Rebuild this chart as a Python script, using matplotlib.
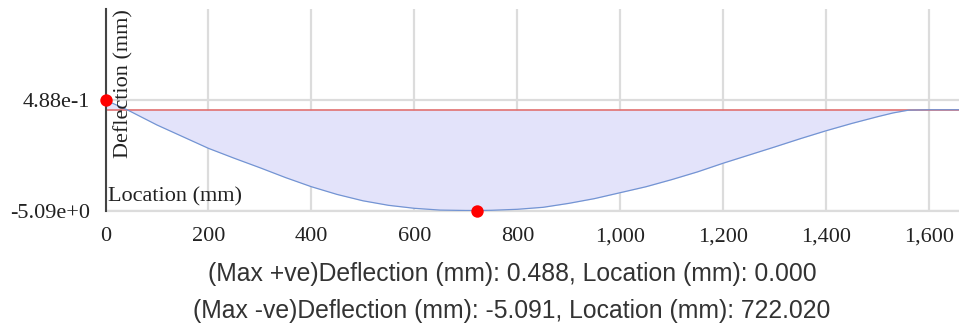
import matplotlib
matplotlib.use("Agg")
import matplotlib.pyplot as plt

# Beam deflection along its length
location_mm = [0, 42, 100, 150, 200, 250, 300, 350, 400, 450, 500, 550, 600,
               650, 700, 722.02, 750, 800, 850, 900, 950, 1000, 1050, 1100,
               1150, 1200, 1250, 1300, 1350, 1400, 1450, 1500, 1530, 1560,
               1600, 1658]
deflection_mm = [0.488, 0.0, -0.77, -1.36, -1.95, -2.45, -2.93, -3.43, -3.89,
                 -4.28, -4.60, -4.83, -4.98, -5.07, -5.09, -5.091, -5.08,
                 -5.03, -4.93, -4.73, -4.49, -4.19, -3.89, -3.53, -3.14,
                 -2.70, -2.29, -1.88, -1.46, -1.06, -0.69, -0.35, -0.16,
                 -0.02, 0.0, 0.0]

max_pos = (0.000, 0.488)
max_neg = (722.020, -5.091)

x_ticks = [0, 200, 400, 600, 800, 1000, 1200, 1400, 1600]
x_tick_labels = ["0", "200", "400", "600", "800", "1,000", "1,200", "1,400", "1,600"]
y_ticks = [0.488, -5.091]
y_tick_labels = ["4.88e-1", "-5.09e+0"]

serif = "Liberation Serif"
sans = "Liberation Sans"

fig = plt.figure(figsize=(9.59, 3.27), dpi=100)
ax = fig.add_axes([105.5 / 959, (327 - 210.5) / 327, 1 - 105.5 / 959, 201.5 / 327])

ax.fill_between(location_mm, deflection_mm, 0, color="#e3e3fa", linewidth=0, zorder=1)
ax.plot(location_mm, deflection_mm, color="#7394d3", linewidth=0.9, zorder=3)
ax.axhline(0, color="#e07070", linewidth=1.2, zorder=2)

ax.scatter([max_pos[0], max_neg[0]], [max_pos[1], max_neg[1]], s=80,
           color="#ff0000", zorder=5, clip_on=False, linewidths=0)

ax.set_xlim(0, 1658)
ax.set_ylim(-5.091, 5.091)

ax.set_xticks(x_ticks)
ax.set_xticklabels(x_tick_labels, fontfamily=serif, fontsize=16, color="#222222")
ax.set_yticks(y_ticks)
ax.set_yticklabels(y_tick_labels, fontfamily=serif, fontsize=16, color="#222222")
ax.tick_params(axis="both", length=0)
ax.tick_params(axis="x", pad=12)
ax.tick_params(axis="y", pad=11)

ax.grid(True, color="#dcdcdc", linewidth=1.6, zorder=0)
ax.set_axisbelow(True)

for side in ("top", "right"):
    ax.spines[side].set_visible(False)
ax.spines["bottom"].set_color("#dcdcdc")
ax.spines["bottom"].set_linewidth(1.6)
ax.spines["left"].set_color("#444444")
ax.spines["left"].set_linewidth(1.5)
ax.spines["left"].set_zorder(4)

ax.text(0.021, 1.0, "Deflection (mm)", transform=ax.transAxes, rotation=90,
        ha="center", va="top", fontfamily=serif, fontsize=16, color="#222222")
ax.text(0.0025, 0.044, "Location (mm)", transform=ax.transAxes,
        ha="left", va="baseline", fontfamily=serif, fontsize=16, color="#222222")

fig.text(512 / 959, (327 - 280.6) / 327,
         f"(Max +ve)Deflection (mm): {max_pos[1]:.3f}, Location (mm): {max_pos[0]:.3f}",
         ha="center", va="baseline", fontfamily=sans, fontsize=17.8, color="#333333")
fig.text(512 / 959, (327 - 318.4) / 327,
         f"(Max -ve)Deflection (mm): {max_neg[1]:.3f}, Location (mm): {max_neg[0]:.3f}",
         ha="center", va="baseline", fontfamily=sans, fontsize=17.8, color="#333333")

fig.savefig("out.png", dpi=100)
